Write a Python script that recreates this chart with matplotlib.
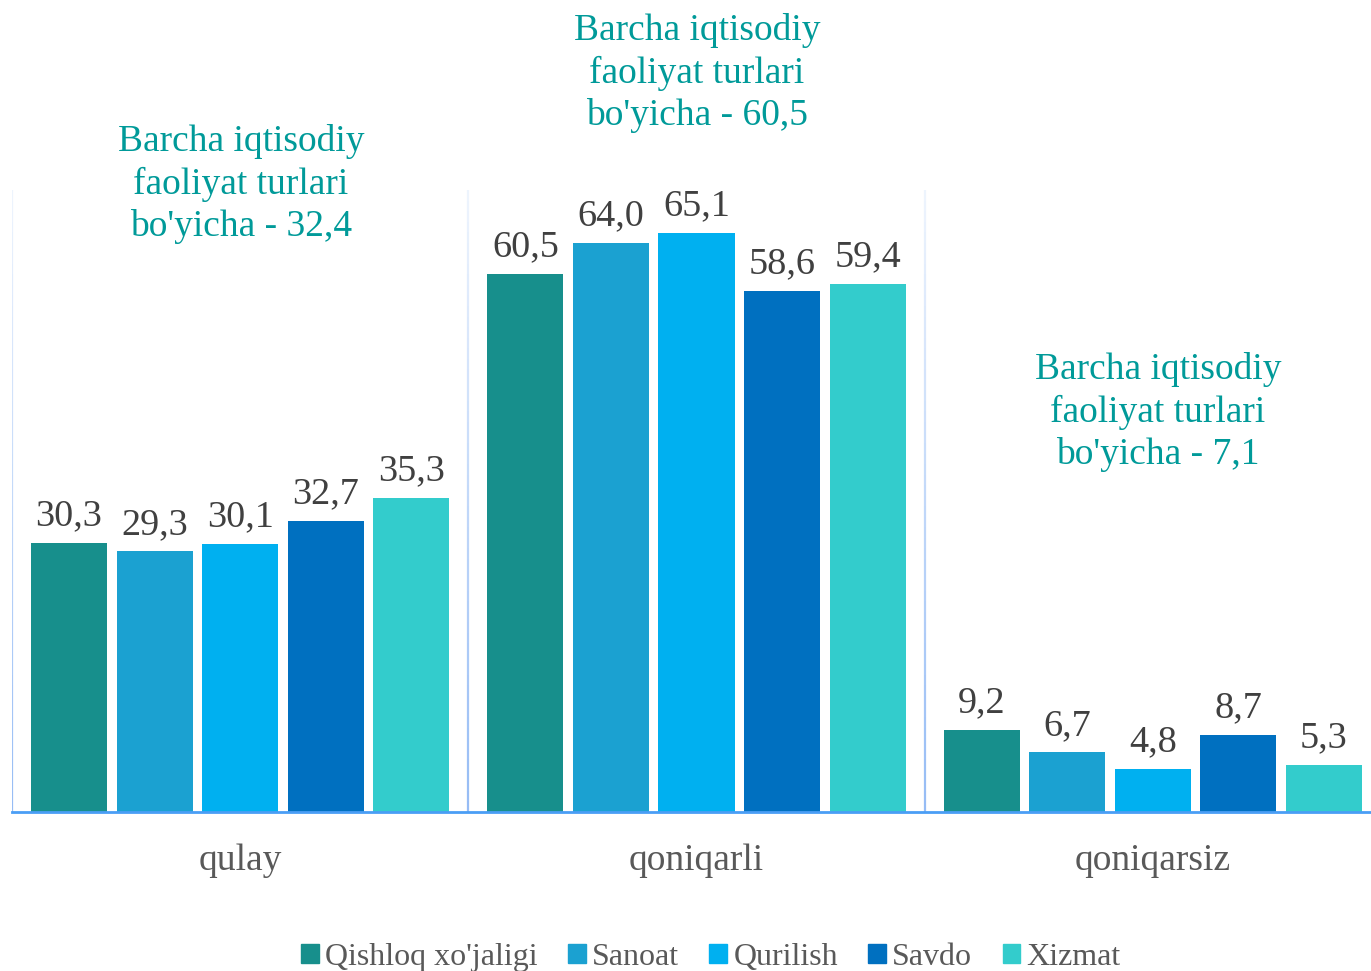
import numpy as np
import matplotlib.pyplot as plt
from matplotlib.collections import LineCollection
from matplotlib.patches import Patch

plt.rcParams['font.family'] = ['Liberation Serif', 'DejaVu Serif']

# ma'lumotlar
categories = ['qulay', 'qoniqarli', 'qoniqarsiz']
sectors = ["Qishloq xo'jaligi", 'Sanoat', 'Qurilish', 'Savdo', 'Xizmat']
values = [
    [30.3, 60.5, 9.2],   # Qishloq xo'jaligi
    [29.3, 64.0, 6.7],   # Sanoat
    [30.1, 65.1, 4.8],   # Qurilish
    [32.7, 58.6, 8.7],   # Savdo
    [35.3, 59.4, 5.3],   # Xizmat
]
totals = [32.4, 60.5, 7.1]
colors = ['#178F8C', '#1BA1D1', '#00B0F0', '#0070C0', '#33CCCC']

fig = plt.figure(figsize=(13.71, 9.71), dpi=100)
ax = fig.add_axes([12 / 1371, 159 / 971, 1369 / 1371, 622 / 971])

x = np.arange(len(categories))
step = 0.1875
width = 0.167
for i, (name, vals) in enumerate(zip(sectors, values)):
    pos = x + (i - 2) * step
    ax.bar(pos, vals, width, color=colors[i], label=name, zorder=2)
    for px, v in zip(pos, vals):
        ax.annotate(('%.1f' % v).replace('.', ','), (px, v), xytext=(0, 7),
                    textcoords='offset points', ha='center', va='bottom',
                    fontsize=27.5, color='#404040')

ax.set_xlim(-0.5, 2.5)
ax.set_ylim(0, 69.94)

# guruhlar orasidagi och ko'k chiziqlar
ys = np.linspace(0, 69.94, 60)
for gx in [-0.5, 0.5, 1.5]:
    segs = [[(gx, ys[k]), (gx, ys[k + 1])] for k in range(len(ys) - 1)]
    alphas = np.linspace(0.75, 0.12, len(segs))
    cols = [(0.45, 0.65, 0.95, a) for a in alphas]
    ax.add_collection(LineCollection(segs, colors=cols, linewidths=1.6, zorder=1))

for s in ['top', 'right', 'left']:
    ax.spines[s].set_visible(False)
ax.spines['bottom'].set_color('#4A9EF5')
ax.spines['bottom'].set_linewidth(2)
ax.set_yticks([])
ax.set_xticks(x)
ax.set_xticklabels(categories, fontsize=27, color='#595959')
ax.tick_params(axis='x', length=0, pad=23)

# har bir guruh uchun umumiy ko'rsatkich
note_pos = [(241, 184), (697, 73), (1158, 412)]
for (px, py), t in zip(note_pos, totals):
    txt = "Barcha iqtisodiy\nfaoliyat turlari\nbo'yicha - " + ('%.1f' % t).replace('.', ',')
    fig.text(px / 1371, 1 - py / 971, txt, ha='center', va='center',
             fontsize=27, color='#009A99', linespacing=1.28)

handles = [Patch(color=c) for c in colors]
fig.legend(handles, sectors, loc='center', bbox_to_anchor=(711 / 1371, 1 - 957 / 971),
           ncol=5, frameon=False, fontsize=23, labelcolor='#595959',
           handlelength=0.55, handleheight=0.55, handletextpad=0.2, columnspacing=0.95)

fig.savefig('out.png', dpi=100)
